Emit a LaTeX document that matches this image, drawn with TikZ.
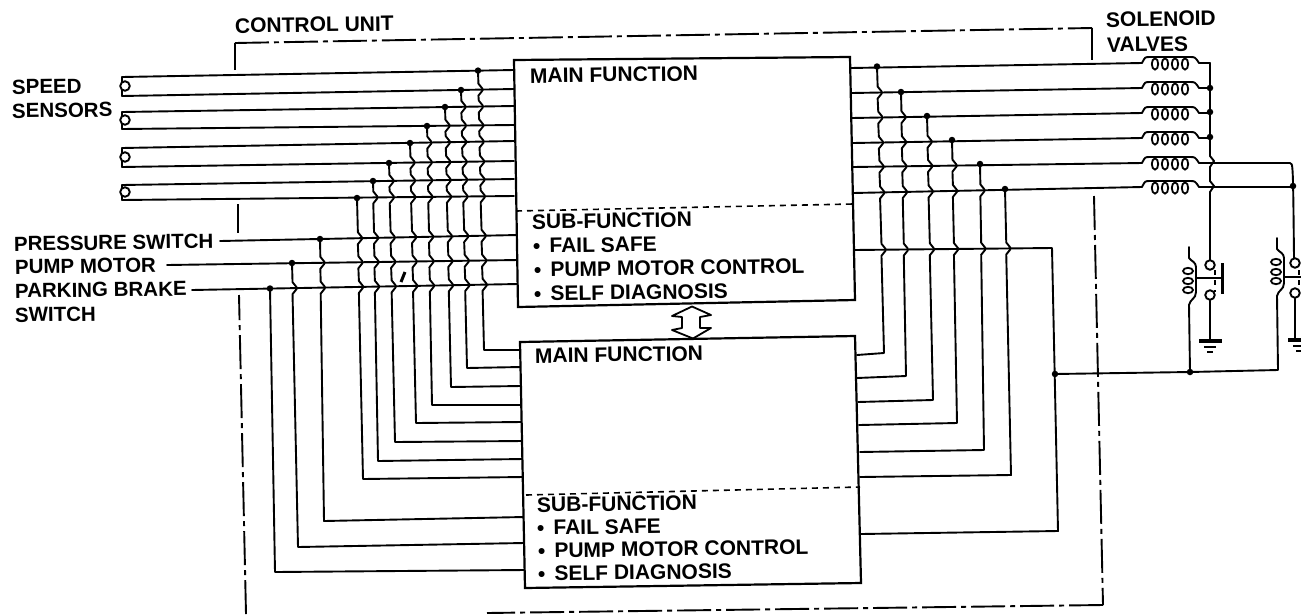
\documentclass[tikz,border=0pt]{standalone}
\usepackage{fontspec}
\setmainfont{Liberation Sans}
\tikzset{
  wire/.style={line width=1.9pt,line join=round,line cap=round},
  boxline/.style={line width=2.2pt,line join=miter},
  dashline/.style={line width=1.6pt,dash pattern=on 6pt off 5pt},
  frameline/.style={line width=1.9pt,dash pattern=on 34pt off 5pt on 5pt off 5pt},
  lab/.style={anchor=base west,inner sep=0pt,rotate=0.8,font=\fontsize{21}{24}\selectfont\bfseries},
  labside/.style={lab,font=\fontsize{20.5}{24}\selectfont\bfseries},
  junction/.style={circle,fill=black,inner sep=0pt,minimum size=6.5pt},
  terminal/.style={circle,draw=black,fill=white,line width=1.9pt,inner sep=0pt,minimum size=9.5pt}
}
% straight wire between two named ends
\newcommand\wirep[5]{\coordinate (#1a) at (#2,#3); \coordinate (#1b) at (#4,#5); \draw[wire] (#1a) -- (#1b);}
% branch from a junction, hopping over the listed wires, then on to a box
\newcommand\drop[8]{%
  \node[junction] (#1) at (#2,#3) {};
  \coordinate (#1e) at (#7,#8);
  \draw[wire] (#1.center)
   \foreach \ax/\ay/\bx/\by [evaluate=\ax as \yc using \ay+(\by-\ay)*(#2-\ax)/(\bx-\ax),
                             evaluate=\ax as \xc using #2+(#4-#2)*(\yc-#3)/(#5-#3)] in #6
     { -- (\xc,\yc-6) -- (\xc+4,\yc-1) -- (\xc+4,\yc+1) -- (\xc,\yc+6) }
   -- (#4,#5) -- (#1e);}
% solenoid coil on a horizontal wire
\newcommand\coilh[3]{%
  \coordinate (#1l) at (1142,#2); \coordinate (#1r) at (#3,#2);
  \draw[wire] (#1l) .. controls (1145,#2-6) .. (1150,#2-6) -- (1190,#2-6)
     .. controls (1195,#2-6) .. (1199,#2) -- (#1r);
  \foreach \cx in {1155,1165,1175,1185}
    \draw[line width=1.8pt] (\cx,#2+1) ellipse [x radius=3.2,y radius=5.6];}
% relay coil on a vertical wire
\newcommand\coilv[2]{%
  \draw[wire] (#1,#2) -- (#1,#2+11) .. controls (#1+2,#2+14) and (#1+7,#2+15) .. (#1+7,#2+20)
    -- (#1+7,#2+45) .. controls (#1+7,#2+52) and (#1+1,#2+52) .. (#1,#2+58);
  \foreach \cy in {24,34,43}
    \draw[line width=1.8pt] (#1-1,#2+\cy) ellipse [x radius=5,y radius=3.2];}
\newcommand\earth[2]{%
  \draw[line width=3.2pt] (#1-11,#2) -- (#1+12,#2);
  \draw[line width=1.7pt] (#1-6,#2+6) -- (#1+6,#2+6);
  \draw[line width=2.2pt] (#1-3,#2+11) -- (#1+3,#2+11);}
\begin{document}
\begin{tikzpicture}[x=1pt,y=-1pt]
\useasboundingbox (0,0) rectangle (1301,614);
\fill[white] (0,0) rectangle (1301,614);

% crossing lists, left side
\edef\tB{190/290/518/284}
\edef\tM{165/265/514/260,\tB}
\edef\tP{220/241/514/235,\tM}
\edef\tH{122/200/514/196,\tP}
\edef\tG{122/185/514/179,\tH}
\edef\tF{122/167/514/161,\tG}
\edef\tE{122/148/514/141,\tF}
\edef\tD{122/129/514/125,\tE}
\edef\tC{122/112/514/106,\tD}
\edef\tA{122/96/514/89,\tC}
% crossing lists, right side
\edef\rZ{854/250/1052/248}
\edef\rF{853/193/1142/187,\rZ}
\edef\rE{853/167/1142/163,\rF}
\edef\rD{853/143/1142/138,\rE}
\edef\rC{852/118/1142/113,\rD}
\edef\rB{852/93/1142/88,\rC}

% control unit frame
\coordinate (fa) at (235,70); \coordinate (fb) at (235,43);
\coordinate (fc) at (1092,28); \coordinate (fd) at (1092,60);
\coordinate (fe) at (1094,196); \coordinate (ff) at (1103,605);
\coordinate (fg) at (487,613); \coordinate (fh) at (239,295);
\coordinate (fk) at (246,614);
\coordinate (fi) at (238,204); \coordinate (fj) at (238,233);
\draw[frameline] (fb) -- (fc);
\draw[line width=2.4pt] (fa) -- (fb);
\draw[line width=2.4pt] (fc) -- (fd);
\draw[frameline] (fe) -- (ff);
\draw[frameline] (ff) -- (fg);
\draw[frameline] (fk) -- (fh);
\draw[line width=1.9pt] (fi) -- (fj);

% input wires
\wirep{wa}{122}{77}{514}{70}
\wirep{wb}{122}{96}{514}{89}
\wirep{wc}{122}{112}{514}{106}
\wirep{wd}{122}{129}{514}{125}
\wirep{we}{122}{148}{514}{141}
\wirep{wf}{122}{167}{514}{161}
\wirep{wg}{122}{185}{514}{179}
\wirep{wh}{122}{200}{514}{196}
\wirep{wp}{220}{241}{518}{235}
\wirep{wm}{167}{265}{518}{260}
\wirep{wk}{192}{290}{518}{284}
\foreach \n/\cy/\p/\q in {ta/86/wa/wb,tb/120/wc/wd,tc/157/we/wf,td/192/wg/wh}{
  \draw[wire] (\p a) -- (\q a);
  \node[terminal] (\n) at (125,\cy) {};
}

% branches, left side
\drop{da}{478}{70.6}{484}{350}{\tA}{521}{350}
\drop{db}{461}{90}{467}{368}{\tC}{521}{367}
\drop{dc}{445}{107}{451}{387}{\tD}{521}{386}
\drop{dd}{427}{126}{432}{405}{\tE}{522}{405}
\drop{de}{410}{143}{416}{423}{\tF}{522}{422}
\drop{df}{389}{163}{395}{442}{\tG}{523}{441}
\drop{dg}{373}{181}{378}{461}{\tH}{523}{459}
\drop{dh}{357}{198}{363}{479}{\tP}{523}{477}
\drop{dp}{320}{239}{324}{521}{\tM}{524}{517}
\drop{dm}{292}{263}{298}{547}{\tB}{524}{543}
\node[junction] (dk) at (270,288.5) {};
\coordinate (dke) at (525,570);
\draw[wire] (dk.center) -- (275,572) -- (dke);
\draw[line width=3pt] (405,272) -- (401,282);

% output wires
\wirep{ra}{851}{68}{1142}{63}
\wirep{rb}{852}{93}{1142}{88}
\wirep{rc}{852}{118}{1142}{113}
\wirep{rd}{853}{143}{1142}{138}
\wirep{re}{853}{167}{1142}{163}
\wirep{rf}{853}{193}{1142}{187}
\coordinate (bz) at (854,250); \coordinate (bt) at (1052,248);
\coordinate (bb) at (1058,531); \coordinate (be) at (861,534);
\draw[wire] (bz) -- (bt) -- (bb) -- (be);

% branches, right side
\drop{qa}{877}{66.5}{884}{353}{\rB}{857}{355}
\drop{qb}{901}{92}{906}{376}{\rC}{857}{378}
\drop{qc}{927}{116}{933}{400}{\rD}{858}{402}
\drop{qd}{952}{140}{957}{423}{\rE}{859}{425}
\drop{qe}{980}{164}{984}{450}{\rF}{860}{452}
\drop{qf}{1005}{189}{1011}{475}{\rZ}{860}{477}

% solenoid valves
\coilh{ca}{63}{1210}
\coilh{cb}{88}{1210}
\coilh{cc}{113}{1210}
\coilh{cd}{138}{1210}
\coilh{ce}{163}{1290}
\coilh{cf}{187}{1293}
\coordinate (vt) at (1210,63);
\coordinate (vb) at (1210,260);
\draw[wire] (vt) -- (1210,156) -- (1214,161) -- (1210,167) -- (1210,181) -- (1214,186) -- (1210,192) -- (vb);
\coordinate (ut) at (1290,163);
\coordinate (ub) at (1294,258);
\draw[wire] (ut) .. controls (1293,163) .. (ub);
\node[junction] (ja) at (1210,88) {};
\node[junction] (jb) at (1210,112) {};
\node[junction] (jc) at (1210,137) {};
\node[junction] (jd) at (1293,186) {};

% relays
\coilv{1189}{247}
\coilv{1277}{238}
\node[terminal] (ka) at (1210,265) {};
\node[terminal] (kb) at (1210,295) {};
\node[terminal] (kc) at (1295,263) {};
\node[terminal] (kd) at (1295,293) {};
\draw[wire] (1196,278) -- (1222,278);
\draw[line width=3pt] (1222,263) -- (1222,294);
\draw[line width=1.6pt,dash pattern=on 5pt off 5pt] (1215,270) -- (1215,292);
\draw[wire] (1284,277) -- (1301,277);
\draw[line width=1.6pt,dash pattern=on 5pt off 5pt] (1299,270) -- (1299,292);
\draw[wire] (kb) -- (1210,341);
\draw[wire] (kd) -- (1295,340);
\earth{1210}{341}
\earth{1299}{340}

% common return
\node[junction] (jr) at (1055,374) {};
\node[junction] (js) at (1190,372) {};
\coordinate (jt) at (1278,370);
\coordinate (ju) at (1189,305);
\coordinate (jv) at (1277,296);
\draw[wire] (jr.center) -- (js.center) -- (jt) -- (jv);
\draw[wire] (js.center) -- (ju);

% units
\coordinate (ua) at (514,60); \coordinate (ub1) at (850,57);
\coordinate (uc) at (855,300); \coordinate (ud) at (518,307);
\draw[boxline,fill=white] (ua) -- (ub1) -- (uc) -- (ud) -- cycle;
\coordinate (la) at (520,342); \coordinate (lb) at (855,336);
\coordinate (lc) at (861,583); \coordinate (ld) at (525,588);
\draw[boxline,fill=white] (la) -- (lb) -- (lc) -- (ld) -- cycle;
\coordinate (uda) at (516,211); \coordinate (udb) at (853,204);
\coordinate (lda) at (526,495); \coordinate (ldb) at (860,487);
\draw[dashline] (uda) -- (udb);
\draw[dashline] (lda) -- (ldb);
% link between the units
\draw[line width=1.8pt,line join=round] (692,306.5) -- (711,315) -- (700,317) -- (700,328) -- (711,328)
  -- (693,338.5) -- (672,330) -- (682,328) -- (682,317) -- (672,316) -- cycle;

% labels
\node[lab] (t1) at (235,33) {CONTROL UNIT};
\node[lab] (t2) at (1106,27) {SOLENOID};
\node[lab] (t3) at (1107,52) {VALVES};
\node[labside] (t4) at (12,94) {SPEED};
\node[labside] (t5) at (12,118) {SENSORS};
\node[labside] (t6) at (14,251) {PRESSURE SWITCH};
\node[labside] (t7) at (15,274) {PUMP MOTOR};
\node[labside] (t8) at (15,298) {PARKING BRAKE};
\node[labside] (t9) at (15,322) {SWITCH};
\node[lab] (t10) at (530,83) {MAIN FUNCTION};
\node[lab] (t11) at (532,229) {SUB-FUNCTION};
\node[lab] (t12) at (533,253) {•\hspace{0.43em}FAIL SAFE};
\node[lab] (t13) at (534,277) {•\hspace{0.43em}PUMP MOTOR CONTROL};
\node[lab] (t14) at (534,301) {•\hspace{0.43em}SELF DIAGNOSIS};
\node[lab] (t15) at (535,363) {MAIN FUNCTION};
\node[lab] (t16) at (537,512) {SUB-FUNCTION};
\node[lab] (t17) at (537,535) {•\hspace{0.43em}FAIL SAFE};
\node[lab] (t18) at (538,558) {•\hspace{0.43em}PUMP MOTOR CONTROL};
\node[lab] (t19) at (538,581) {•\hspace{0.43em}SELF DIAGNOSIS};
\end{tikzpicture}
\end{document}
